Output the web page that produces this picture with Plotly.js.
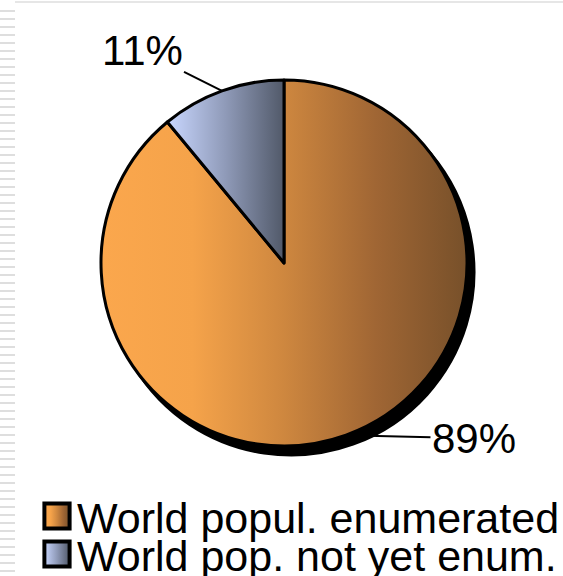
<!DOCTYPE html>
<html>
<head>
<meta charset="utf-8">
<script src="https://cdn.plot.ly/plotly-3.0.1.min.js"></script>
<style>
html,body{margin:0;padding:0;background:#fff;}
#wrap{position:relative;width:563px;height:576px;overflow:hidden;background:#fff;}
#stripes{position:absolute;left:0;top:6px;width:15px;height:570px;
  background:repeating-linear-gradient(to bottom,#fff 0px,#fff 4px,#dedede 4px,#dedede 6px,#fff 6px,#fff 8px);}
#topline{position:absolute;left:15px;top:1px;right:0;height:2px;background:#e6e6e6;}
#chart{position:absolute;left:0;top:0;width:563px;height:576px;}
</style>
</head>
<body>
<div id="wrap">
  <div id="stripes"></div>
  <div id="topline"></div>
  <div id="chart"></div>
</div>
<script>
// ---- data ----
const labels = ['World popul. enumerated', 'World pop. not yet enum.'];
const values = [89, 11];
const baseColors = ['#D98E45', '#98A3C4'];

// ---- layout constants ----
const W = 563, H = 576;
const cx = 284, cy = 263, R = 183;          // pie centre / radius in px
const shadowOff = {dx: 7, dy: 9};
const dom = {x: [(cx - R) / W, (cx + R) / W], y: [(H - cy - R) / H, (H - cy + R) / H]};
const shadowDom = {
  x: [dom.x[0] + shadowOff.dx / W, dom.x[1] + shadowOff.dx / W],
  y: [dom.y[0] - shadowOff.dy / H, dom.y[1] - shadowOff.dy / H]
};
// text offset from leader tip (px), in the same order as values
const labelOffsets = [[128, 3], [-80, -40]];
const legendSym = {x: 57, y0: 516, gap: 38, scale: 2.1};

const gradients = {
  gO: [[0, '#FBA74D'], [0.25, '#F5A34A'], [0.5, '#CE873F'], [0.75, '#A06634'], [1, '#77502A']],
  gB: [[0, '#C9D7FF'], [0.5, '#8F9AB8'], [1, '#515969']]
};
const gradIds = ['gO', 'gB'];

// ---- derived ----
const total = values.reduce((a, b) => a + b, 0);
const pct = values.map(v => Math.round(v / total * 100) + '%');
let acc = 0;
const midAngles = values.map(v => { const m = (acc + v / 2) / total * 2 * Math.PI; acc += v; return m; });
const annotations = midAngles.map((a, i) => ({
  xref: 'paper', yref: 'paper',
  x: (cx + R * Math.sin(a)) / W,
  y: (H - (cy - R * Math.cos(a))) / H,
  ax: labelOffsets[i][0], ay: labelOffsets[i][1],
  text: pct[i],
  showarrow: true, arrowhead: 0, arrowwidth: 2, arrowcolor: '#000', standoff: 0,
  font: {family: 'Liberation Sans, Arial, sans-serif', size: 42, color: '#000'}
}));

const traces = [
  {
    type: 'pie', labels: labels.map(l => l + ' shadow'), values: values,
    sort: false, direction: 'clockwise', rotation: 0, domain: shadowDom,
    marker: {colors: values.map(() => '#000'), line: {color: '#000', width: 3}},
    textinfo: 'none', hoverinfo: 'skip', showlegend: false
  },
  {
    type: 'pie', labels: labels, values: values,
    sort: false, direction: 'clockwise', rotation: 0, domain: dom,
    marker: {colors: baseColors, line: {color: '#000', width: 3}},
    textinfo: 'none', hoverinfo: 'label+percent'
  }
];

const layout = {
  width: W, height: H,
  margin: {l: 0, r: 0, t: 0, b: 0, autoexpand: false},
  paper_bgcolor: 'rgba(0,0,0,0)', plot_bgcolor: 'rgba(0,0,0,0)',
  showlegend: true,
  legend: {
    x: 37 / W, xanchor: 'left', y: 0.17, yanchor: 'top',
    bgcolor: 'rgba(0,0,0,0)', borderwidth: 0,
    font: {family: 'Liberation Sans, Arial, sans-serif', size: 43, color: '#000'}
  },
  annotations: annotations
};

Plotly.newPlot('chart', traces, layout, {displayModeBar: false, staticPlot: true}).then(() => {
  const NS = 'http://www.w3.org/2000/svg';
  const svg = document.querySelector('#chart svg.main-svg');
  let defs = svg.querySelector('defs');
  if (!defs) { defs = document.createElementNS(NS, 'defs'); svg.insertBefore(defs, svg.firstChild); }
  Object.keys(gradients).forEach(id => {
    const lg = document.createElementNS(NS, 'linearGradient');
    lg.setAttribute('id', id);
    lg.setAttribute('x1', '0'); lg.setAttribute('y1', '0');
    lg.setAttribute('x2', '1'); lg.setAttribute('y2', '0');
    gradients[id].forEach(([o, c]) => {
      const s = document.createElementNS(NS, 'stop');
      s.setAttribute('offset', o); s.setAttribute('stop-color', c);
      lg.appendChild(s);
    });
    defs.appendChild(lg);
  });
  // slices
  const pieTraces = document.querySelectorAll('#chart .pielayer .trace');
  const main = pieTraces[pieTraces.length - 1];
  main.querySelectorAll('g.slice path.surface').forEach((p, i) => {
    p.style.fill = 'url(#' + gradIds[i] + ')';
  });
  // legend
  const wrapRect = document.getElementById('chart').getBoundingClientRect();
  document.querySelectorAll('#chart .legend .traces').forEach((g, i) => {
    const p = g.querySelector('path.legendpie');
    if (!p) return;
    p.setAttribute('transform', (p.getAttribute('transform') || '') + ' scale(' + legendSym.scale + ')');
    p.style.fill = 'url(#' + gradIds[i] + ')';
    p.style.strokeWidth = '1.9';
    p.style.stroke = '#000';
    const r = p.getBoundingClientRect();
    const curX = r.left + r.width / 2 - wrapRect.left;
    const curY = r.top + r.height / 2 - wrapRect.top;
    const tY = legendSym.y0 + i * legendSym.gap;
    const m = (g.getAttribute('transform') || 'translate(0,0)').match(/translate\(\s*([-\d.e]+)[ ,]+([-\d.e]+)\s*\)/);
    const tx = m ? +m[1] : 0, ty = m ? +m[2] : 0;
    g.setAttribute('transform', 'translate(' + (tx + legendSym.x - curX) + ',' + (ty + tY - curY) + ')');
  });
});
</script>
</body>
</html>
